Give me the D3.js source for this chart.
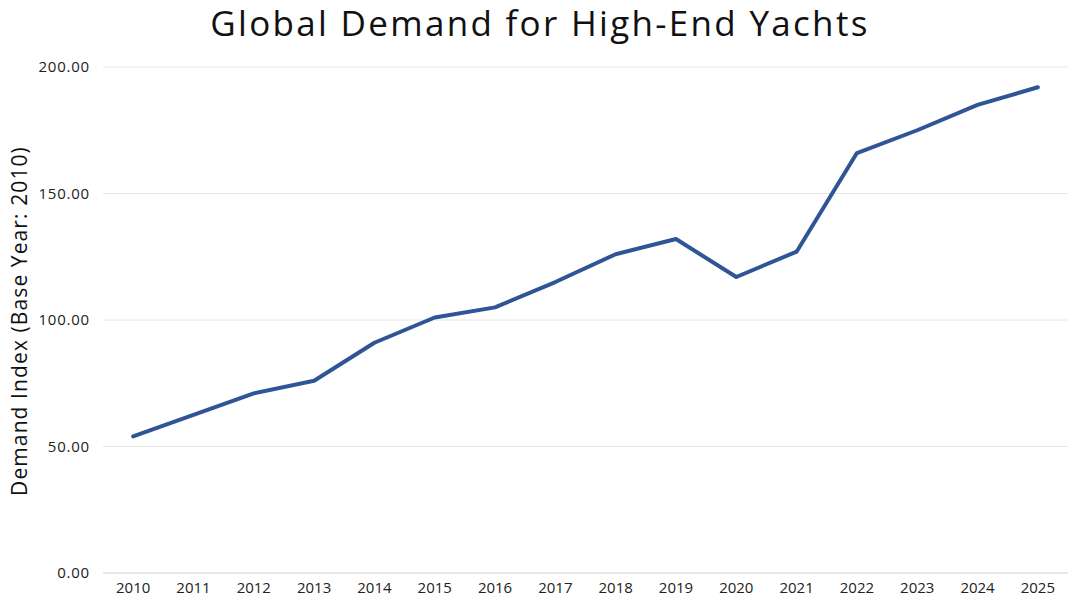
<!DOCTYPE html>
<html><head><meta charset="utf-8">
<script src="https://cdn.jsdelivr.net/npm/d3@7"></script>
<style>body{margin:0;background:#fff}svg{display:block}text{font-family:"Open Sans",sans-serif}</style>
</head><body><svg id="c" width="1080" height="607"></svg>
<script>
const years = ["2010","2011","2012","2013","2014","2015","2016","2017","2018","2019","2020","2021","2022","2023","2024","2025"];
const demand = [54,62.5,71,76,91,101,105,115,126,132,117,127,166,175,185,192];
const yTicks = [0,50,100,150,200];
const title = "Global Demand for High-End Yachts";
const yLabel = "Demand Index (Base Year: 2010)";

const svg = d3.select("#c");
const m = {l:103, r:12, t:67, b:34};
const W = 1080, H = 607;
const x = d3.scaleBand().domain(years).range([m.l, W-m.r]);
const y = d3.scaleLinear().domain([0,200]).range([H-m.b, m.t]);

svg.append("g").selectAll("line").data(yTicks).join("line")
  .attr("x1", m.l).attr("x2", W-m.r)
  .attr("y1", d=>y(d)).attr("y2", d=>y(d))
  .attr("stroke", d=> d===0 ? "#d0d0d0" : "#e6e6e6").attr("stroke-width",1);

svg.append("g").selectAll("text").data(yTicks).join("text")
  .attr("x", 90).attr("y", d=>y(d)).attr("dy","0.35em")
  .attr("text-anchor","end").attr("font-size",15).attr("letter-spacing",0.8).attr("fill","#222")
  .text(d=>d3.format(".2f")(d));

svg.append("g").selectAll("text").data(years).join("text")
  .attr("x", d=>x(d)+x.bandwidth()/2).attr("y", H-m.b+20)
  .attr("text-anchor","middle").attr("font-size",15).attr("fill","#222")
  .text(d=>d);

const line = d3.line().x((d,i)=>x(years[i])+x.bandwidth()/2).y(d=>y(d));
svg.append("path").datum(demand).attr("d", line)
  .attr("fill","none").attr("stroke","#2f5597").attr("stroke-width",4)
  .attr("stroke-linejoin","round").attr("stroke-linecap","round");

svg.append("text").attr("x", 540).attr("y", 36).attr("text-anchor","middle")
  .attr("font-size",35).attr("letter-spacing",2.3).attr("fill","#111").text(title);

svg.append("text").attr("transform","translate(27,321) rotate(-90)")
  .attr("text-anchor","middle").attr("font-size",21).attr("letter-spacing",1.1).attr("fill","#111").text(yLabel);
</script></body></html>
